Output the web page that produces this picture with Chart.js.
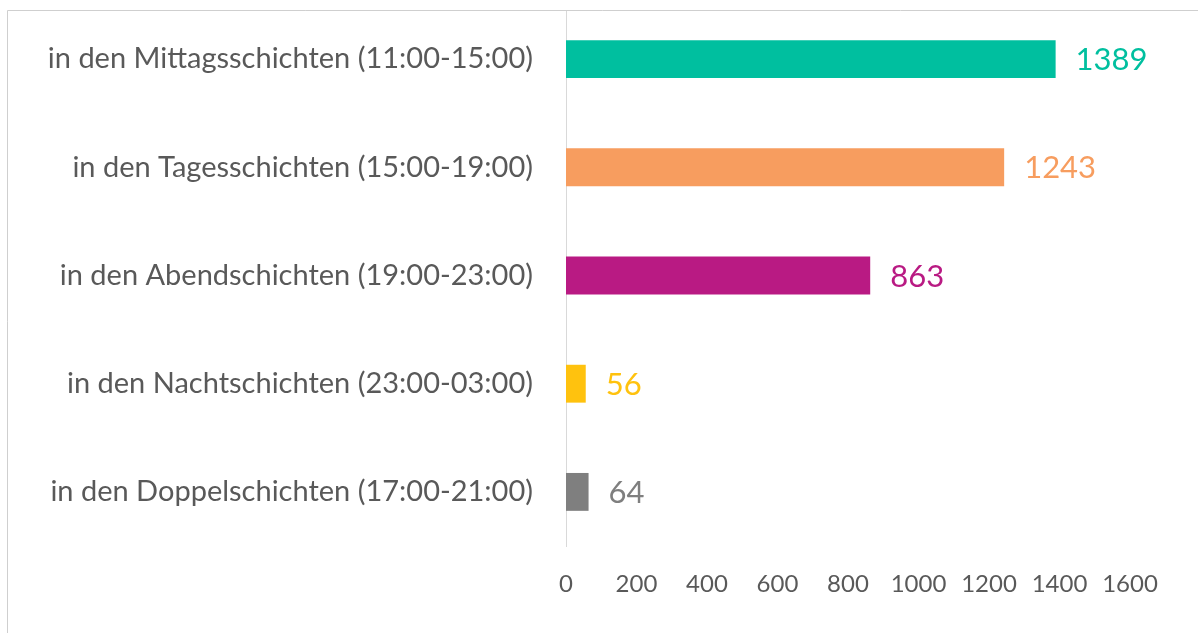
<!DOCTYPE html>
<html>
<head>
<meta charset="utf-8">
<script src="https://cdn.jsdelivr.net/npm/chart.js@4/dist/chart.umd.min.js"></script>
<style>
  html, body { margin: 0; padding: 0; background: #ffffff; }
  #wrap { position: relative; width: 1198px; height: 633px; }
</style>
</head>
<body>
<div id="wrap"><canvas id="c" width="1198" height="633"></canvas></div>
<script>
// Schichten und Anzahl
const categories = [
  'in den Mittagsschichten (11:00-15:00)',
  'in den Tagesschichten (15:00-19:00)',
  'in den Abendschichten (19:00-23:00)',
  'in den Nachtschichten (23:00-03:00)',
  'in den Doppelschichten (17:00-21:00)'
];
const values = [1389, 1243, 863, 56, 64];
const barColors = ['#00BF9F', '#F79D5F', '#B91A83', '#FFC20E', '#7F7F7F'];
const xTicks = [0, 200, 400, 600, 800, 1000, 1200, 1400, 1600];

const FONT = 'Lato, "Open Sans", sans-serif';
const TEXT = '#595959';

// value labels at the end of each bar, in the bar's colour
const valueLabels = {
  id: 'valueLabels',
  afterDatasetsDraw(chart) {
    const ctx = chart.ctx;
    const meta = chart.getDatasetMeta(0);
    ctx.save();
    ctx.font = '31px ' + FONT;
    ctx.textBaseline = 'middle';
    ctx.textAlign = 'left';
    meta.data.forEach((bar, i) => {
      ctx.fillStyle = barColors[i];
      ctx.fillText(String(values[i]), bar.x + 20, bar.y + 1);
    });
    ctx.restore();
  }
};

// thin frame along the top and left edge
const frame = {
  id: 'frame',
  afterDraw(chart) {
    const ctx = chart.ctx;
    ctx.save();
    ctx.fillStyle = '#ffffff';
    ctx.fillRect(0, 0, chart.width, 10);
    ctx.strokeStyle = '#cfcfcf';
    ctx.lineWidth = 1;
    ctx.beginPath();
    ctx.moveTo(7.5, chart.height);
    ctx.lineTo(7.5, 10.5);
    ctx.lineTo(chart.width, 10.5);
    ctx.stroke();
    ctx.restore();
  }
};

new Chart(document.getElementById('c'), {
  type: 'bar',
  data: {
    labels: categories,
    datasets: [{
      data: values,
      backgroundColor: barColors,
      borderWidth: 0,
      barPercentage: 0.7,
      categoryPercentage: 0.5
    }]
  },
  options: {
    indexAxis: 'y',
    responsive: false,
    maintainAspectRatio: false,
    animation: false,
    layout: { padding: { top: 5, right: 68, bottom: 0, left: 0 } },
    plugins: {
      legend: { display: false },
      tooltip: { enabled: false }
    },
    scales: {
      x: {
        min: 0,
        max: 1600,
        afterBuildTicks(scale) { scale.ticks = xTicks.map(v => ({ value: v })); },
        grid: { display: false, drawTicks: false },
        border: { display: false },
        ticks: {
          color: TEXT,
          font: { family: FONT, size: 24 },
          padding: 24,
          maxRotation: 0,
          callback: v => String(v)
        },
        afterFit(scale) {
          scale.height = 87;
          scale.paddingLeft = 0;
          scale.paddingRight = 0;
        }
      },
      y: {
        grid: { display: false, drawTicks: false },
        border: { display: true, color: '#d9d9d9', width: 1 },
        ticks: { color: TEXT, font: { family: FONT, size: 29 }, padding: 33 },
        afterFit(scale) {
          scale.width = 566;
          scale.paddingTop = 0;
          scale.paddingBottom = 0;
        }
      }
    }
  },
  plugins: [valueLabels, frame]
});
</script>
</body>
</html>
